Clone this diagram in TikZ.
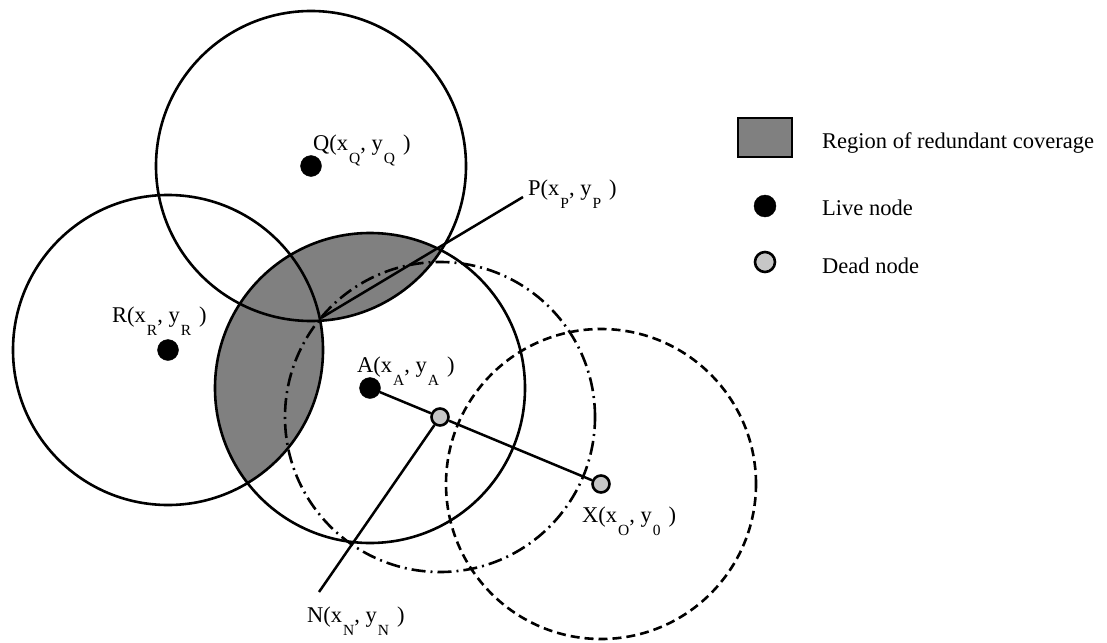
\documentclass[tikz,border=0pt]{standalone}
\usepackage{fontspec}
\setmainfont{Liberation Serif}
\usetikzlibrary{backgrounds}

% lowered index as printed in the labels
\newcommand\lbsub[1]{\hspace{1pt}\raisebox{-13pt}{\fontsize{15.5}{16}\selectfont #1}}

\begin{document}
\begin{tikzpicture}[x=1pt, y=-1pt,
			live/.style={draw, circle, fill=black, inner sep=0pt, minimum size=21pt},
			dead/.style={draw, circle, fill=black!22, line width=2.6pt, inner sep=0pt, minimum size=17pt},
			disc/.style={line width=2.6pt},
			link/.style={line width=2.5pt},
			lbl/.style={anchor=base west, inner sep=0pt, font=\fontsize{22.5}{26}\selectfont}
			]
			\useasboundingbox (0,0) rectangle (1107,642);
			
			% sensor nodes
			\node[live] (Q) at (311,166) {};
			\node[live] (R) at (168,350) {};
			\node[live] (A) at (370,388) {};
			\node[dead] (N) at (440,417) {};
			\node[dead] (X) at (601,484) {};
			\coordinate (P) at (321,318);
			\coordinate (Nend) at (319,592);
			
			% labels
			\node[lbl] (Qlbl) at (313,150) {Q(x\lbsub{Q}, y\lbsub{Q}\hspace{8pt})};
			\node[lbl] (Plbl) at (528,195) {P(x\lbsub{P}, y\lbsub{P}\hspace{8pt})};
			\node[lbl] (Rlbl) at (112,322) {R(x\lbsub{R}, y\lbsub{R}\hspace{8pt})};
			\node[lbl] (Albl) at (357,372) {A(x\lbsub{A}, y\lbsub{A}\hspace{8pt})};
			\node[lbl] (Xlbl) at (582,522) {X(x\lbsub{O}, y\lbsub{0}\hspace{8pt})};
			\node[lbl] (Nlbl) at (307,622) {N(x\lbsub{N}, y\lbsub{N}\hspace{8pt})};
			
			% coverage discs
			\begin{scope}[on background layer]
				\begin{scope}
					\clip (A) circle[radius=155pt];
					\fill[black!50] (Q) circle[radius=155pt] (R) circle[radius=155pt];
				\end{scope}
				\draw[disc] (Q) circle[radius=155pt];
				\draw[disc] (R) circle[radius=155pt];
				\draw[disc] (A) circle[radius=155pt];
				\draw[disc, dash pattern=on 14pt off 5pt on 2pt off 5pt] (N) circle[radius=155pt];
				\draw[disc, dash pattern=on 9pt off 5pt] (X) circle[radius=155pt];
			\end{scope}
			
			% connectors
			\draw[link] (A) -- (N);
			\draw[link] (N) -- (X);
			\draw[link] (P) -- ([xshift=-5pt, yshift=-2pt]Plbl.base west);
			\draw[link] (N) -- (Nend);
			
			% legend
			\node[draw, fill=black!50, line width=2.6pt, minimum width=54pt, minimum height=39pt] (keyreg) at (765,137.5) {};
			\node[live, minimum size=22pt] (keylive) at (765,206) {};
			\node[dead, minimum size=20pt] (keydead) at (765,262) {};
			\node[lbl] (keyregtxt) at (822,148) {Region of redundant coverage};
			\node[lbl] (keylivetxt) at (822,215) {Live node};
			\node[lbl] (keydeadtxt) at (822,273) {Dead node};
			
		\end{tikzpicture}
\end{document}
